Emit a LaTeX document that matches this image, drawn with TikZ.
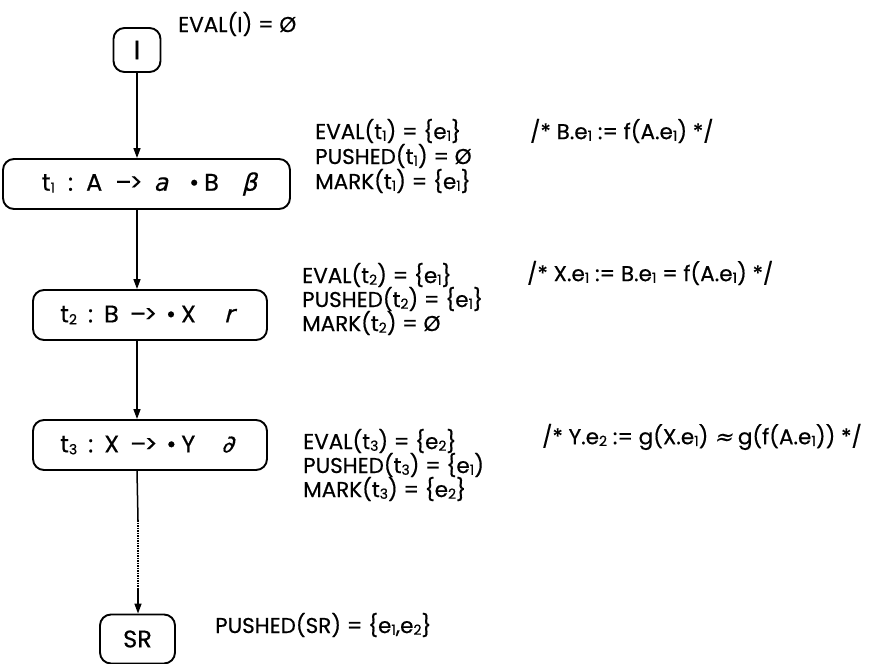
\documentclass[tikz,border=0pt]{standalone}
\usepackage{fontspec}
\setmainfont{Poppins}[FakeBold=0.5]
\newfontfamily\grk{DejaVu Sans}[FakeSlant=0.25,FakeBold=0.5]
\usetikzlibrary{arrows.meta}
\newcommand\ix[1]{\raisebox{-0.15ex}{\fontsize{14}{14}\selectfont #1}}
\newcommand\arr{\textendash\kern-0.08em>}
\newcommand\gl[1]{{\grk #1}}
\begin{document}
\begin{tikzpicture}[x=1pt,y=-1pt,
  box/.style={draw,line width=1.9pt,rounded corners=11pt,inner sep=0pt,
    font=\fontsize{24}{26}\selectfont},
  lbl/.style={anchor=west,inner sep=0pt,font=\fontsize{21.5}{24}\selectfont},
  conn/.style={line width=1.5pt},
  tip/.style={-{Triangle[width=7pt,length=10pt]}}]
\useasboundingbox (0,0) rectangle (873,664);

\node[box,minimum width=47pt,minimum height=44pt,font=\fontsize{27}{28}\selectfont] (I) at (137,50) {I};
\node[box,minimum width=287pt,minimum height=50pt] (t1) at (146.5,184)
  {\hspace{6pt}t\ix{1}\hspace{13pt}:\hspace{13pt}A\hspace{13pt}\arr\hspace{11pt}\gl{a}\hspace{21pt}\textbullet\hspace{5pt}B\hspace{23pt}\gl{β}};
\node[box,minimum width=234pt,minimum height=50pt] (t2) at (150,315)
  {\hspace{-6pt}t\ix{2}\hspace{11pt}:\hspace{11pt}B\hspace{11pt}\arr\hspace{9pt}\textbullet\hspace{5pt}X\hspace{28pt}\gl{r}};
\node[box,minimum width=234pt,minimum height=50pt] (t3) at (150,445)
  {\hspace{-6pt}t\ix{3}\hspace{11pt}:\hspace{11pt}X\hspace{11pt}\arr\hspace{9pt}\textbullet\hspace{5pt}Y\hspace{26pt}\gl{∂}};
\node[box,minimum width=75pt,minimum height=49pt] (SR) at (137.5,639) {SR};

\coordinate (c1) at (138,520);
\coordinate (c2) at (138,588);

\draw[conn,tip] (I.south) -- (I.south |- t1.north);
\draw[conn,tip] (t1.south -| I.south) -- (t2.north -| I.south);
\draw[conn,tip] (t2.south -| I.south) -- (t3.north -| I.south);
\draw[conn] (t3.south -| I.south) -- (c1);
\draw[conn,densely dotted] (c1) -- (c2);
\draw[conn,tip] (c2) -- (SR.north -| c2);

\node[lbl] (eI) at (178,24) {EVAL(I) = Ø};

\node[lbl] (e1) at (315,131) {EVAL(t\ix{1}) = \{e\ix{1}\}};
\node[lbl] (p1) at (315,156) {PUSHED(t\ix{1}) = Ø};
\node[lbl] (m1) at (315,181) {MARK(t\ix{1}) = \{e\ix{1}\}};
\node[lbl] (k1) at (530,131) {/* B.e\ix{1} := f(A.e\ix{1}) */};

\node[lbl] (e2) at (302,275) {EVAL(t\ix{2}) = \{e\ix{1}\}};
\node[lbl] (p2) at (302,299) {PUSHED(t\ix{2}) = \{e\ix{1}\}};
\node[lbl] (m2) at (302,323) {MARK(t\ix{2}) = Ø};
\node[lbl] (k2) at (527,273) {/* X.e\ix{1} := B.e\ix{1} = f(A.e\ix{1}) */};

\node[lbl] (e3) at (303,441) {EVAL(t\ix{3}) = \{e\ix{2}\}};
\node[lbl] (p3) at (303,465) {PUSHED(t\ix{3}) = \{e\ix{1})};
\node[lbl] (m3) at (303,489) {MARK(t\ix{3}) = \{e\ix{2}\}};
\node[lbl] (k3) at (542,437) {/* Y.e\ix{2} := g(X.e\ix{1}) \gl{≈} g(f(A.e\ix{1})) */};

\node[lbl] (pS) at (215,625) {PUSHED(SR) = \{e\ix{1},e\ix{2}\}};
\end{tikzpicture}
\end{document}
